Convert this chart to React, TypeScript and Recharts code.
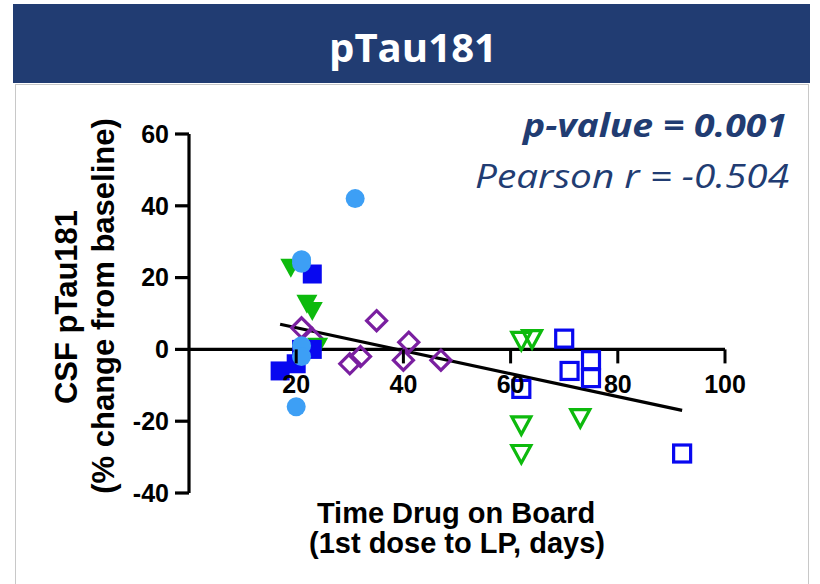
import React from 'react';
import { ScatterChart, Scatter, XAxis, YAxis, ReferenceLine } from 'recharts';

// ---------- data ----------
const X_TICKS = [20, 40, 60, 80, 100];
const Y_TICKS = [-40, -20, 0, 20, 40, 60];
const X_DOMAIN: [number, number] = [0, 100];
const Y_DOMAIN: [number, number] = [-40, 60];

const lightBlueCircles = [
  { x: 31, y: 42 },
  { x: 21, y: 25 },
  { x: 21, y: 24 },
  { x: 21, y: 1 },
  { x: 21, y: -2 },
  { x: 20, y: -16 },
];
const blueFilledSquares = [
  { x: 23, y: 21 },
  { x: 21, y: 0 },
  { x: 23, y: 0 },
  { x: 20, y: -4 },
  { x: 17, y: -6 },
];
const greenFilledTriangles = [
  { x: 19, y: 23 },
  { x: 22, y: 13 },
  { x: 23, y: 11 },
  { x: 24, y: 1 },
];
const purpleOpenDiamonds = [
  { x: 21, y: 6 },
  { x: 23, y: 3 },
  { x: 30, y: -4 },
  { x: 32, y: -2 },
  { x: 35, y: 8 },
  { x: 40, y: -3 },
  { x: 41, y: 2 },
  { x: 47, y: -3 },
];
const greenOpenTriangles = [
  { x: 62, y: 2.5 },
  { x: 64, y: 3 },
  { x: 62, y: -21 },
  { x: 62, y: -29 },
  { x: 73, y: -19 },
];
const blueOpenSquares = [
  { x: 70, y: 3 },
  { x: 71, y: -6 },
  { x: 75, y: -3 },
  { x: 75, y: -8 },
  { x: 62, y: -11 },
  { x: 92, y: -29 },
];
const fitLine = [
  { x: 17, y: 7 },
  { x: 92, y: -17 },
];

const TITLE = 'pTau181';
const P_TEXT = 'p-value = 0.001';
const R_TEXT = 'Pearson r = -0.504';
const Y_LABEL_1 = 'CSF pTau181';
const Y_LABEL_2 = '(% change from baseline)';
const X_LABEL_1 = 'Time Drug on Board';
const X_LABEL_2 = '(1st dose to LP, days)';

// ---------- layout ----------
const W = 820;
const H = 584;
const MARGIN = { top: 134, right: 95, bottom: 61, left: 129 };
const Y_AXIS_W = 60;
const X_AXIS_H = 30;
const PLOT_H = H - MARGIN.top - MARGIN.bottom - X_AXIS_H;
const ZERO_FROM_BOTTOM = (PLOT_H * (0 - Y_DOMAIN[0])) / (Y_DOMAIN[1] - Y_DOMAIN[0]);

const NAVY = '#213C72';
const C_LIGHTBLUE = '#3D9FF5';
const C_BLUE = '#0808F0';
const C_GREEN = '#0DBA0D';
const C_PURPLE = '#7A1FA0';
const AXIS_FONT = "'Liberation Sans', Arial, sans-serif";

const FilledCircle = (p: any) => <circle cx={p.cx} cy={p.cy} r={9.5} fill={C_LIGHTBLUE} />;
const FilledSquare = (p: any) => (
  <rect x={p.cx - 9.5} y={p.cy - 9.5} width={19} height={19} fill={C_BLUE} />
);
const FilledTri = (p: any) => (
  <path d={`M${p.cx - 10.5},${p.cy - 8} L${p.cx + 10.5},${p.cy - 8} L${p.cx},${p.cy + 11} Z`} fill={C_GREEN} />
);
const OpenDiamond = (p: any) => (
  <path
    d={`M${p.cx},${p.cy - 10} L${p.cx + 10},${p.cy} L${p.cx},${p.cy + 10} L${p.cx - 10},${p.cy} Z`}
    fill="none"
    stroke={C_PURPLE}
    strokeWidth={3.2}
  />
);
const OpenTri = (p: any) => (
  <path
    d={`M${p.cx - 9.5},${p.cy - 8} L${p.cx + 9.5},${p.cy - 8} L${p.cx},${p.cy + 9.5} Z`}
    fill="none"
    stroke={C_GREEN}
    strokeWidth={3.2}
    strokeLinejoin="miter"
  />
);
const OpenSquare = (p: any) => (
  <rect x={p.cx - 8.5} y={p.cy - 8.5} width={17} height={17} fill="none" stroke={C_BLUE} strokeWidth={3.2} />
);

const XTick = (p: any) => {
  const y0 = p.y - ZERO_FROM_BOTTOM;
  return (
    <g>
      <line x1={p.x} x2={p.x} y1={y0} y2={y0 + 14} stroke="#000" strokeWidth={3} />
      <text
        x={p.x}
        y={y0 + 44}
        textAnchor="middle"
        fontFamily={AXIS_FONT}
        fontWeight="bold"
        fontSize={25}
        fill="#000"
      >
        {p.payload.value}
      </text>
    </g>
  );
};

export default function App() {
  return (
    <div style={{ position: 'absolute', left: 0, top: 0, width: W, height: H, background: '#fff', overflow: 'hidden' }}>
      <div
        style={{
          position: 'absolute',
          left: 15,
          top: 84,
          width: 792,
          height: 520,
          border: '1.5px solid #C8C8C8',
          background: '#fff',
        }}
      />
      <div style={{ position: 'absolute', left: 13, top: 4, width: 797, height: 79, background: NAVY }} />
      <div style={{ position: 'absolute', left: 0, top: 0 }}>
        <ScatterChart width={W} height={H} margin={MARGIN}>
          <XAxis
            type="number"
            dataKey="x"
            domain={X_DOMAIN}
            ticks={X_TICKS}
            axisLine={false}
            tickLine={false}
            tickSize={0}
            tickMargin={0}
            height={X_AXIS_H}
            tick={<XTick />}
            allowDataOverflow
          />
          <YAxis
            type="number"
            dataKey="y"
            domain={Y_DOMAIN}
            ticks={Y_TICKS}
            width={Y_AXIS_W}
            axisLine={{ stroke: '#000', strokeWidth: 3.2 }}
            tickLine={{ stroke: '#000', strokeWidth: 3.2 }}
            tickSize={14}
            tickMargin={6}
            tick={{ fill: '#000', fontSize: 25, fontWeight: 'bold', fontFamily: AXIS_FONT }}
            allowDataOverflow
          />
          <ReferenceLine y={0} stroke="#000" strokeWidth={3.2} />
          <ReferenceLine segment={fitLine} stroke="#000" strokeWidth={3.2} ifOverflow="visible" />
          <Scatter data={purpleOpenDiamonds} shape={OpenDiamond} isAnimationActive={false} />
          <Scatter data={greenOpenTriangles} shape={OpenTri} isAnimationActive={false} />
          <Scatter data={blueOpenSquares} shape={OpenSquare} isAnimationActive={false} />
          <Scatter data={greenFilledTriangles} shape={FilledTri} isAnimationActive={false} />
          <Scatter data={blueFilledSquares} shape={FilledSquare} isAnimationActive={false} />
          <Scatter data={lightBlueCircles} shape={FilledCircle} isAnimationActive={false} />
        </ScatterChart>
      </div>
      <svg width={W} height={H} style={{ position: 'absolute', left: 0, top: 0, pointerEvents: 'none' }}>
        <text
          x={413}
          y={62}
          textAnchor="middle"
          fill="#fff"
          fontFamily="'Open Sans', sans-serif"
          fontWeight="bold"
          fontSize={40}
          textLength={168}
          lengthAdjust="spacingAndGlyphs"
        >
          {TITLE}
        </text>
        <text
          x={787}
          y={137}
          textAnchor="end"
          fill={NAVY}
          fontFamily="'Open Sans', sans-serif"
          fontWeight="bold"
          fontStyle="italic"
          fontSize={33}
          textLength={264}
          lengthAdjust="spacingAndGlyphs"
        >
          {P_TEXT}
        </text>
        <text
          x={789}
          y={188}
          textAnchor="end"
          fill={NAVY}
          fontFamily="'Open Sans', sans-serif"
          fontStyle="italic"
          fontSize={33}
          textLength={314}
          lengthAdjust="spacingAndGlyphs"
        >
          {R_TEXT}
        </text>
        <text
          transform="translate(77,307) rotate(-90)"
          textAnchor="middle"
          fontFamily={AXIS_FONT}
          fontWeight="bold"
          fontSize={31}
          fill="#000"
        >
          {Y_LABEL_1}
        </text>
        <text
          transform="translate(114,306) rotate(-90)"
          textAnchor="middle"
          fontFamily={AXIS_FONT}
          fontWeight="bold"
          fontSize={31}
          fill="#000"
        >
          {Y_LABEL_2}
        </text>
        <text x={456} y={523} textAnchor="middle" fontFamily={AXIS_FONT} fontWeight="bold" fontSize={29} fill="#000">
          {X_LABEL_1}
        </text>
        <text x={457} y={553} textAnchor="middle" fontFamily={AXIS_FONT} fontWeight="bold" fontSize={29} fill="#000">
          {X_LABEL_2}
        </text>
      </svg>
    </div>
  );
}
